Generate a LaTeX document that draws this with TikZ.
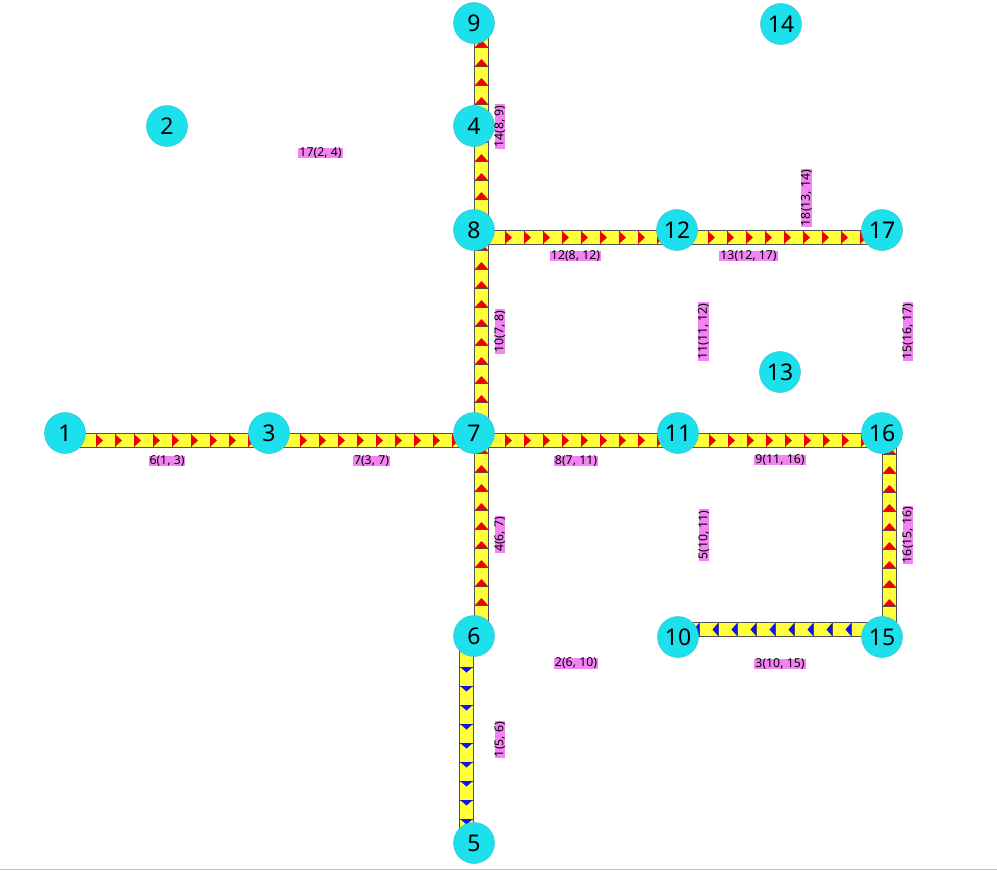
\documentclass[tikz,border=0pt]{standalone}
\usepackage{fontspec}
\setmainfont{Noto Sans}
\usetikzlibrary{calc}
\usetikzlibrary{decorations.markings}
\pgfdeclarelayer{lanebg}
\pgfsetlayers{lanebg,main}

\definecolor{jcyan}{HTML}{1CE1EC}
\definecolor{jedge}{HTML}{3FC3CF}
\definecolor{laneyellow}{HTML}{FFFF3A}
\definecolor{lanegray}{HTML}{505050}
\definecolor{tagviolet}{HTML}{F382F3}
\definecolor{arrred}{HTML}{F00000}
\definecolor{arrblue}{HTML}{1212EE}

\tikzset{
	junction/.style={circle, fill=jcyan, draw=jedge, line width=0.5pt, minimum size=41pt, inner sep=0pt, font=\fontsize{23}{23}\selectfont},
	tag/.style={fill=tagviolet, inner xsep=1pt, inner ysep=0pt, text height=8.5pt, text depth=2pt, font=\fontsize{12.3}{12.3}\selectfont},
	vtag/.style={tag, rotate=90}
}

% one lane: from, to, arrow colour, arrow length
\newcommand{\lane}[4]{%
	\coordinate (ls) at ($(#1.center)!7.5pt!-90:(#2.center)$);
	\coordinate (le) at ($(#2.center)!7.5pt!90:(#1.center)$);
	\draw [lanegray, line width=15pt] (ls) -- (le);
	\draw [laneyellow, line width=13pt] (ls) -- (le);
	\path [decorate, decoration={markings, mark=between positions 31pt and 1 step 19pt with {%
		\draw [lanegray, line width=0.6pt] (0pt,-6.5pt) -- (0pt,6.5pt);
		\fill [#3] (0pt,-6.3pt) -- (#4,0pt) -- (0pt,6.3pt) -- cycle;}}] (ls) -- (le);
}

\begin{document}
\begin{tikzpicture}[x=1pt, y=-1pt]
	\useasboundingbox (0,0) rectangle (997,871);
	
	% Junctions
	\node [junction] at (65,433) (n1) {1};
	\node [junction] at (167,126) (n2) {2};
	\node [junction] at (269,433) (n3) {3};
	\node [junction] at (474,126) (n4) {4};
	\node [junction] at (474,843) (n5) {5};
	\node [junction] at (474,636) (n6) {6};
	\node [junction] at (474,433) (n7) {7};
	\node [junction] at (474,230) (n8) {8};
	\node [junction] at (474,23) (n9) {9};
	\node [junction] at (678,637) (n10) {10};
	\node [junction] at (678,433) (n11) {11};
	\node [junction] at (677,230) (n12) {12};
	\node [junction] at (780,372) (n13) {13};
	\node [junction] at (781,24) (n14) {14};
	\node [junction] at (882,637) (n15) {15};
	\node [junction] at (882,433) (n16) {16};
	\node [junction] at (882,230) (n17) {17};
	
	% Lanes
	\begin{pgfonlayer}{lanebg}
		\lane{n1}{n3}{arrred}{7pt}
		\lane{n3}{n7}{arrred}{7pt}
		\lane{n7}{n11}{arrred}{7pt}
		\lane{n11}{n16}{arrred}{7pt}
		\lane{n7}{n8}{arrred}{7pt}
		\lane{n8}{n9}{arrred}{7pt}
		\lane{n8}{n12}{arrred}{7pt}
		\lane{n12}{n17}{arrred}{7pt}
		\lane{n6}{n7}{arrred}{7pt}
		\lane{n15}{n16}{arrred}{7pt}
		\lane{n6}{n5}{arrblue}{5.5pt}
		\lane{n15}{n10}{arrblue}{5.5pt}
	\end{pgfonlayer}
	
	% Edge tags, horizontal
	\node [tag] at ($(n1)!.5!(n3)+(0,28)$) (l6) {6(1, 3)};
	\node [tag] at ($(n3)!.5!(n7)+(0,28)$) (l7) {7(3, 7)};
	\node [tag] at ($(n7)!.5!(n11)+(0,28)$) (l8) {8(7, 11)};
	\node [tag] at ($(n11)!.5!(n16)+(0,27)$) (l9) {9(11, 16)};
	\node [tag] at ($(n8)!.5!(n12)+(0,26)$) (l12) {12(8, 12)};
	\node [tag] at ($(n12)!.5!(n17)+(-31,26)$) (l13) {13(12, 17)};
	\node [tag] at ($(n6)!.5!(n10)+(0,27)$) (l2) {2(6, 10)};
	\node [tag] at ($(n10)!.5!(n15)+(0,27)$) (l3) {3(10, 15)};
	\node [tag] at ($(n2)!.5!(n4)+(0,27)$) (l17) {17(2, 4)};
	
	% Edge tags, vertical
	\node [vtag] at ($(n5)!.5!(n6)+(26,0)$) (l1) {1(5, 6)};
	\node [vtag] at ($(n6)!.5!(n7)+(26,0)$) (l4) {4(6, 7)};
	\node [vtag] at ($(n7)!.5!(n8)+(26,0)$) (l10) {10(7, 8)};
	\node [vtag] at ($(n8)!.5!(n9)+(26,0)$) (l14) {14(8, 9)};
	\node [vtag] at ($(n10)!.5!(n11)+(26,0)$) (l5) {5(10, 11)};
	\node [vtag] at ($(n11)!.5!(n12)+(26,0)$) (l11) {11(11, 12)};
	\node [vtag] at ($(n15)!.5!(n16)+(26,0)$) (l16) {16(15, 16)};
	\node [vtag] at ($(n16)!.5!(n17)+(26,0)$) (l15) {15(16, 17)};
	\node [vtag] at ($(n13)!.5!(n14)+(26,0)$) (l18) {18(13, 14)};
	
	% bottom rule
	\draw [black!25, line width=1.5pt] (0,869.5) -- (997,869.5);
\end{tikzpicture}
\end{document}
